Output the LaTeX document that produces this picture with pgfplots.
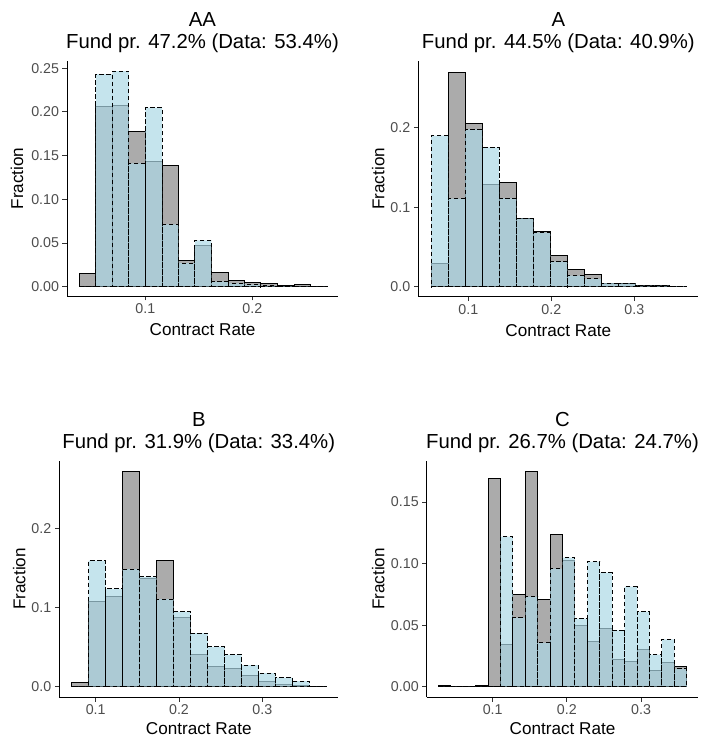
\documentclass[border=0pt]{standalone}
\usepackage{fontspec}
\setmainfont{Liberation Sans}
\usepackage{pgfplots}
\usepackage{pgfplotstable}
\pgfplotsset{compat=1.18}

\definecolor{grayfill}{HTML}{ABABAB}
\definecolor{lblue}{HTML}{ADD8E6}
\definecolor{ticktext}{HTML}{4D4D4D}
\definecolor{tickline}{HTML}{333333}

% left bin edge, gray (solid) fraction, blue (dashed) fraction; last row = right edge
\pgfplotstableread{
edge  gray    blue
0.0384 0.0157 0
0.0538 0.2061 0.2431
0.0693 0.2076 0.2466
0.0847 0.1770 0.1412
0.1001 0.1427 0.2050
0.1156 0.1385 0.0714
0.1310 0.0302 0.0271
0.1464 0.0466 0.0531
0.1618 0.0160 0.0057
0.1773 0.0069 0.0039
0.1927 0.0046 0.0023
0.2081 0.0034 0.0011
0.2236 0.0015 0.0008
0.2390 0.0027 0.0005
0.2544 0.0006 0.0002
0.2699 0      0
}\tabAA

\pgfplotstableread{
edge  gray    blue
0.0551 0.0294 0.1900
0.0756 0.2700 0.1107
0.0962 0.2050 0.1980
0.1167 0.1280 0.1753
0.1372 0.1310 0.1110
0.1578 0.0852 0.0860
0.1783 0.0697 0.0680
0.1988 0.0390 0.0315
0.2194 0.0210 0.0139
0.2399 0.0147 0.0097
0.2604 0.0042 0.0046
0.2810 0.0042 0.0040
0.3015 0.0013 0.0013
0.3220 0.0012 0.0012
0.3426 0.0008 0.0008
0.3631 0      0
}\tabA

\pgfplotstableread{
edge  gray    blue
0.0712 0.0055 0
0.0916 0.1080 0.1595
0.1120 0.1140 0.1240
0.1324 0.2720 0.1490
0.1528 0.1370 0.1390
0.1732 0.1595 0.1110
0.1936 0.0880 0.0950
0.2140 0.0410 0.0680
0.2345 0.0260 0.0506
0.2549 0.0236 0.0405
0.2753 0.0148 0.0274
0.2957 0.0072 0.0173
0.3161 0.0034 0.0114
0.3365 0.0013 0.0072
0.3569 0.0003 0
0.3773 0      0
}\tabB

\pgfplotstableread{
edge  gray    blue
0.0267 0.0010 0
0.0435 0      0
0.0602 0      0
0.0770 0.0010 0
0.0937 0.1687 0
0.1105 0.0344 0.1219
0.1272 0.0750 0.0560
0.1439 0.1747 0.0731
0.1607 0.0712 0.0355
0.1774 0.1237 0.0959
0.1942 0.1026 0.1048
0.2109 0.0496 0.0552
0.2277 0.0366 0.1015
0.2444 0.0471 0.0926
0.2611 0.0222 0.0458
0.2779 0.0203 0.0812
0.2946 0.0298 0.0609
0.3114 0.0133 0.0260
0.3281 0.0195 0.0385
0.3449 0.0160 0.0144
0.3616 0      0
}\tabC

\pgfplotsset{
  panel/.style={
    scale only axis,
    axis lines*=left,
    xtick pos=bottom, ytick pos=left,
    axis line style={black, line width=0.8bp},
    tick align=outside,
    major tick length=4.5bp,
    tick style={draw=tickline, line width=0.8bp},
    tick label style={font=\fontsize{14.3}{16}\selectfont, text=ticktext,
      /pgf/number format/assume math mode=true},
    xticklabel style={/pgf/number format/fixed, /pgf/number format/precision=1},
    label style={font=\fontsize{17.2}{20}\selectfont},
    xlabel={Contract Rate}, ylabel={Fraction},
    xlabel style={at={(axis description cs:0.5,0)}, anchor=base, yshift=-40bp},
    title style={at={(axis description cs:0.5,1)}, anchor=south, align=center,
      inner sep=0pt, yshift=2.5bp, font=\fontsize{20.4}{22}\selectfont},
  },
  graybar/.style={ybar interval, fill=grayfill, draw=black, line width=1bp},
  bluebar/.style={ybar interval, fill=lblue, fill opacity=0.7, draw=black,
    draw opacity=1, line width=1bp, dash pattern=on 4.5bp off 2.5bp},
}

\begin{document}
\begin{tikzpicture}
\path[use as bounding box] (0,0) rectangle (705bp,738bp);

% AA
\begin{axis}[panel, at={(67bp,442bp)}, anchor=south west,
  width=271bp, height=235bp,
  xmin=0.0268, xmax=0.2801, ymin=-0.0106, ymax=0.2582,
  xtick={0.1,0.2}, ytick={0,0.05,0.10,0.15,0.20,0.25},
  yticklabel style={/pgf/number format/fixed, /pgf/number format/fixed zerofill, /pgf/number format/precision=2},
  ylabel style={at={(axis description cs:-0.1845,0.5)}, anchor=center},
  title={AA\\Fund pr. 47.2\% (Data: 53.4\%)}]
\addplot[graybar] table[x=edge, y=gray] {\tabAA};
\addplot[bluebar] table[x=edge, y=blue] {\tabAA};
\end{axis}

% A
\begin{axis}[panel, at={(418.3bp,441.3bp)}, anchor=south west,
  width=280bp, height=235.7bp,
  xmin=0.0398, xmax=0.3771, ymin=-0.0126, ymax=0.2839,
  xtick={0.1,0.2,0.3}, ytick={0,0.1,0.2},
  yticklabel style={/pgf/number format/fixed, /pgf/number format/fixed zerofill, /pgf/number format/precision=1},
  ylabel style={at={(axis description cs:-0.1429,0.5)}, anchor=center},
  title={A\\Fund pr. 44.5\% (Data: 40.9\%)}]
\addplot[graybar] table[x=edge, y=gray] {\tabA};
\addplot[bluebar] table[x=edge, y=blue] {\tabA};
\end{axis}

% B
\begin{axis}[panel, at={(59.3bp,41bp)}, anchor=south west,
  width=279bp, height=236bp,
  xmin=0.0563, xmax=0.3912, ymin=-0.0130, ymax=0.2857,
  xtick={0.1,0.2,0.3}, ytick={0,0.1,0.2},
  yticklabel style={/pgf/number format/fixed, /pgf/number format/fixed zerofill, /pgf/number format/precision=1},
  ylabel style={at={(axis description cs:-0.1434,0.5)}, anchor=center},
  xlabel style={yshift=3bp},
  title={B\\Fund pr. 31.9\% (Data: 33.4\%)}]
\addplot[graybar] table[x=edge, y=gray] {\tabB};
\addplot[bluebar] table[x=edge, y=blue] {\tabB};
\end{axis}

% C
\begin{axis}[panel, at={(426.7bp,41bp)}, anchor=south west,
  width=271.6bp, height=236bp,
  xmin=0.0111, xmax=0.3771, ymin=-0.0084, ymax=0.1833,
  xtick={0.1,0.2,0.3}, ytick={0,0.05,0.10,0.15},
  yticklabel style={/pgf/number format/fixed, /pgf/number format/fixed zerofill, /pgf/number format/precision=2},
  ylabel style={at={(axis description cs:-0.178,0.5)}, anchor=center},
  xlabel style={yshift=3bp},
  title={C\\Fund pr. 26.7\% (Data: 24.7\%)}]
\addplot[graybar] table[x=edge, y=gray] {\tabC};
\addplot[bluebar] table[x=edge, y=blue] {\tabC};
\end{axis}
\end{tikzpicture}
\end{document}
